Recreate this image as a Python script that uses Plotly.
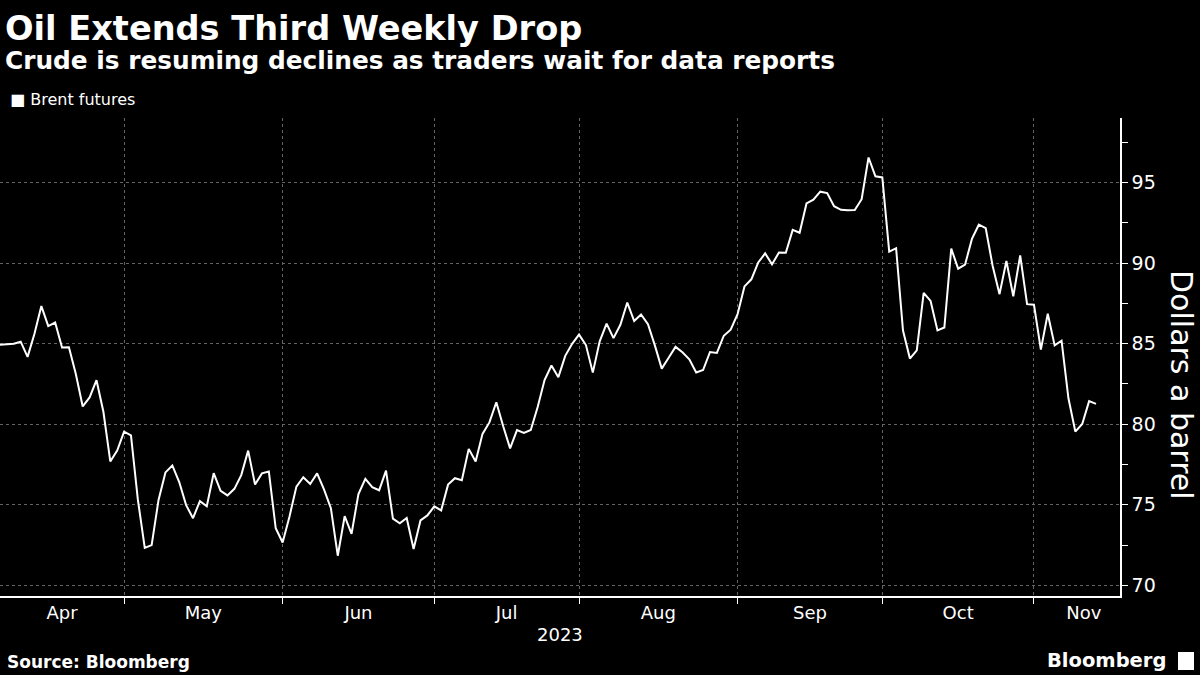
"""Brent futures, Apr-Nov 2023, Bloomberg style chart."""

import pandas as pd
import plotly.graph_objects as go

# Brent front-month closes, one list per month (trading days only)
brent_apr = [84.93, 84.94, 84.99, 85.12, 84.18, 85.61, 87.33, 86.09, 86.31, 84.76,
             84.77, 83.12, 81.10, 81.66, 82.73, 80.77, 77.69, 78.37, 79.54]
brent_may = [79.31, 75.32, 72.33, 72.50, 75.30, 77.01, 77.44, 76.41, 74.98, 74.17,
             75.23, 74.91, 76.96, 75.86, 75.58, 75.99, 76.84, 78.36, 76.26, 76.95,
             77.07, 73.54, 72.66]
brent_jun = [74.28, 76.13, 76.71, 76.29, 76.95, 75.96, 74.79, 71.84, 74.29, 73.20,
             75.67, 76.61, 76.09, 75.90, 77.12, 74.14, 73.85, 74.18, 72.26, 74.03,
             74.34, 74.90]
brent_jul = [74.65, 76.25, 76.65, 76.52, 78.47, 77.69, 79.40, 80.11, 81.36, 79.87,
             78.50, 79.63, 79.46, 79.64, 81.07, 82.74, 83.64, 82.92, 84.24, 84.99,
             85.56]
brent_aug = [84.91, 83.20, 85.14, 86.24, 85.34, 86.17, 87.55, 86.40, 86.81, 86.21,
             84.89, 83.45, 84.12, 84.80, 84.46, 84.03, 83.21, 83.36, 84.48, 84.42,
             85.49, 85.86, 86.83]
brent_sep = [88.55, 88.99, 90.04, 90.60, 89.92, 90.65, 90.64, 92.06, 91.88, 93.70,
             93.93, 94.43, 94.34, 93.53, 93.30, 93.27, 93.29, 93.96, 96.55, 95.38,
             95.31]
brent_oct = [90.71, 90.92, 85.81, 84.07, 84.58, 88.15, 87.65, 85.82, 86.00, 90.89,
             89.65, 89.90, 91.50, 92.38, 92.16, 89.83, 88.07, 90.13, 87.93, 90.48,
             87.45, 87.41]
brent_nov = [84.63, 86.85, 84.89, 85.18, 81.61, 79.54, 80.01, 81.43, 81.26]

month_labels = ["Apr", "May", "Jun", "Jul", "Aug", "Sep", "Oct", "Nov"]
holidays = ["2023-04-07"]  # Good Friday, ICE closed

prices = brent_apr + brent_may + brent_jun + brent_jul + brent_aug + brent_sep + brent_oct + brent_nov
dates = pd.bdate_range("2023-04-03", periods=len(prices), freq="C", holidays=holidays)

W, H = 1200, 675
ML, MR, MT, MB = 0, 80, 118, 79
GRID = "#646464"
FONT = "DejaVu Sans"


def paper(x, y):
    return x / (W - ML - MR), (H - MB - y) / (H - MT - MB)


def day_pos(i):
    # trading-day index (may be fractional) -> date on the broken axis
    whole = min(int(i), len(dates) - 1)
    return dates[whole] + pd.Timedelta(days=i - whole)


# month boundaries sit on the last trading day of each month
ends = [i for i in range(len(dates) - 1) if dates[i].month != dates[i + 1].month]
x_end = len(dates) - 1 + 3.48
edges = [0] + ends + [x_end + 2]  # last (partial) month label sits a little further right
label_pos = [day_pos((a + b) / 2) for a, b in zip(edges[:-1], edges[1:])]

fig = go.Figure()
fig.add_trace(go.Scatter(x=dates, y=prices, mode="lines", name="Brent futures",
                         line=dict(color="white", width=2), showlegend=False))

fig.update_layout(
    width=W, height=H,
    margin=dict(l=ML, r=MR, t=MT, b=MB),
    paper_bgcolor="black", plot_bgcolor="black",
    font=dict(family=FONT, color="white"),
    xaxis=dict(
        type="date",
        range=[dates[0], day_pos(x_end)],
        rangebreaks=[dict(bounds=["sat", "mon"]), dict(values=holidays)],
        tickmode="array", tickvals=label_pos, ticktext=month_labels,
        ticks="", showgrid=False, zeroline=False,
        tickfont=dict(size=18, color="white"),
        showline=True, linecolor="white", linewidth=1.5,
        minor=dict(tickmode="array", tickvals=[dates[i] for i in ends],
                   ticks="outside", ticklen=6, tickcolor="white", tickwidth=1,
                   showgrid=True, gridcolor=GRID, griddash="3px,3px", gridwidth=1),
    ),
    yaxis=dict(
        side="right", range=[69.34, 99.0],
        tickmode="linear", tick0=70, dtick=5,
        ticks="outside", ticklen=6, tickcolor="white",
        showline=True, linecolor="white", linewidth=1.5,
        showgrid=True, gridcolor=GRID, griddash="3px,3px", gridwidth=1,
        zeroline=False,
        tickfont=dict(size=19, color="white"),
        minor=dict(tick0=70, dtick=2.5, ticks="outside", ticklen=6,
                   tickcolor="white", showgrid=False),
    ),
)

notes = [
    ("<b>Oil Extends Third Weekly Drop</b>", 3, 28, 33.6, "left"),
    ("<b>Crude is resuming declines as traders wait for data reports</b>", 3, 61, 24.8, "left"),
    ("■ Brent futures", 8, 100, 16, "left"),
    ("2023", 560, 634, 18, "center"),
    ("<b>Source: Bloomberg</b>", 5, 662, 17, "left"),
    ("<b>Bloomberg</b>", 1168, 660, 19.5, "right"),
]
for text, x, y, size, anchor in notes:
    px_, py_ = paper(x, y)
    fig.add_annotation(text=text, x=px_, y=py_, xref="paper", yref="paper",
                       xanchor=anchor, yanchor="middle", showarrow=False,
                       font=dict(family=FONT, size=size, color="white"))

tx, ty = paper(1182, 385)
fig.add_annotation(text="Dollars a barrel", x=tx, y=ty, xref="paper", yref="paper",
                   textangle=90, showarrow=False, xanchor="center", yanchor="middle",
                   font=dict(family=FONT, size=30, color="white"))

# small logo block next to the wordmark
x0, y0 = paper(1178, 652)
x1, y1 = paper(1194, 670)
fig.add_shape(type="rect", xref="paper", yref="paper", x0=x0, y0=y0, x1=x1, y1=y1,
              fillcolor="white", line=dict(width=0))

# drop the default page margin so the figure sits at the window origin
fig.write_html("out.html", config={"displayModeBar": False},
               post_script="document.body.style.margin='0';")
